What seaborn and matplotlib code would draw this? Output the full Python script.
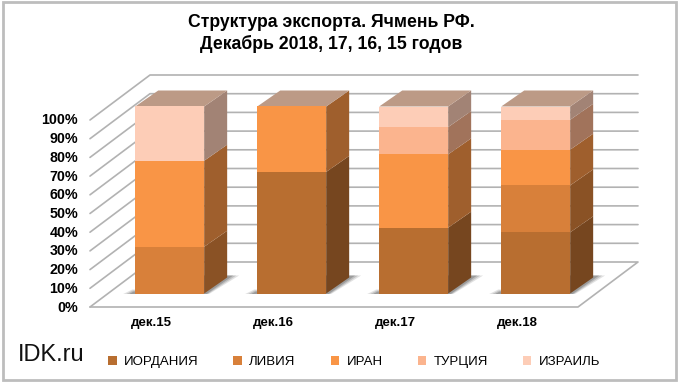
import matplotlib
matplotlib.use("Agg")
import matplotlib.pyplot as plt
import matplotlib.colors as mcolors
from matplotlib.patches import Rectangle
from matplotlib.transforms import Affine2D
import numpy as np
import seaborn as sns

months = ["дек.15", "дек.16", "дек.17", "дек.18"]
series_names = ["ИОРДАНИЯ", "ЛИВИЯ", "ИРАН", "ТУРЦИЯ", "ИЗРАИЛЬ"]
jordan = [0, 65, 35.2, 32.7]
libya = [25, 0, 0, 25.1]
iran = [46, 35, 39.2, 19.1]
turkey = [0, 0, 14.6, 16]
israel = [29, 0, 11, 7.1]
series_values = [jordan, libya, iran, turkey, israel]
series_colors = ["#B86E30", "#D8803A", "#F99546", "#FBB48E", "#FDCDB7"]
y_ticks = list(range(0, 101, 10))

W, H = 680, 385
sns.set_theme(style="white")
plt.rcParams["font.family"] = ["Liberation Sans", "DejaVu Sans"]

fig = plt.figure(figsize=(W / 100, H / 100), dpi=100)
# front plane of the fake 3D box, in pixels
ax = fig.add_axes([90 / W, (H - 307) / H, 488 / W, 187 / H])
ax.set_xlim(-0.5, 3.5)
ax.set_ylim(0, 100)

# pixel sizes to data units
PX_X = 4 / 488
PX_Y = 100 / 187
BOX_DX, BOX_DY = 60 * PX_X, 45 * PX_Y
BAR_DX, BAR_DY = 23 * PX_X, 16 * PX_Y
SHIFT_X, SHIFT_Y = 18.7 * PX_X, 13.5 * PX_Y

GRID = "#B2B2B2"

# walls and floor
x0, x1 = -0.5, 3.5
for v in y_ticks:
    ax.plot([x0, x0 + BOX_DX, x1 + BOX_DX if v > 0 else x0 + BOX_DX],
            [v, v + BOX_DY, v + BOX_DY], color=GRID, lw=1.2, clip_on=False, zorder=1)
ax.plot([x0 + BOX_DX, x1 + BOX_DX, x1, x0], [BOX_DY, BOX_DY, 0, 0],
        color=GRID, lw=1.2, clip_on=False, zorder=1)

bar_shift = Affine2D().translate(SHIFT_X, SHIFT_Y) + ax.transData

# stacked bars
bottoms = np.zeros(len(months))
for name, vals, col in zip(series_names, series_values, series_colors):
    sns.barplot(x=months, y=vals, bottom=bottoms, color=col, width=0.565, saturation=1,
                label=name, ax=ax, zorder=4, linewidth=0)
    bottoms = bottoms + np.array(vals)
ax.set_xlim(-0.5, 3.5)
ax.set_ylim(0, 100)
if ax.get_legend() is not None:
    ax.get_legend().remove()

handles = []
tops = {}
for cont, col in zip(ax.containers, series_colors):
    handles.append(cont)
    side = np.array(mcolors.to_rgb(col)) * 0.64
    for p in cont.patches:
        p.set_transform(bar_shift)
        p.set_clip_on(False)
        xr, yb, h = p.get_x() + p.get_width(), p.get_y(), p.get_height()
        if h > 0:
            ax.fill([xr, xr + BAR_DX, xr + BAR_DX, xr],
                    [yb, yb + BAR_DY, yb + h + BAR_DY, yb + h],
                    color=side, lw=0, transform=bar_shift, clip_on=False, zorder=3)
            tops[p.get_x()] = (p.get_width(), yb + h)

for xl, (w, yt) in tops.items():
    ax.fill([xl, xl + w, xl + w + BAR_DX, xl + BAR_DX],
            [yt, yt, yt + BAR_DY, yt + BAR_DY],
            color="#BC9A86", lw=0, transform=bar_shift, clip_on=False, zorder=3)
    # floor shadow, a few layers to soften it
    xr = xl + w
    for g, alpha in [(1.0, 0.16), (0.75, 0.22), (0.5, 0.3)]:
        ax.fill([xl - 12 * g * PX_X, xr + 5 * g * PX_X, xr + BAR_DX + 12 * g * PX_X,
                 xl + BAR_DX, xl, xl - 3 * g * PX_X],
                [-0.5 * PX_Y, -0.5 * PX_Y, BAR_DY + 2 * PX_Y, BAR_DY + 2 * PX_Y,
                 4 * g * PX_Y, 4 * g * PX_Y],
                color="#4A4A4A", alpha=alpha, lw=0, transform=bar_shift, clip_on=False, zorder=2)

for s in ax.spines.values():
    s.set_visible(False)
ax.patch.set_alpha(0)
ax.set_yticks(y_ticks)
ax.set_yticklabels([f"{v}%" for v in y_ticks], fontsize=10.3, fontweight="bold", color="black")
ax.tick_params(axis="y", length=0, pad=8.5)
ax.tick_params(axis="x", length=0, pad=7)
ax.set_xticks(range(len(months)))
ax.set_xticklabels(months, fontsize=9.5, fontweight="bold", color="black")
ax.set_xlabel("")
for t in ax.get_yticklabels():
    t.set_transform(t.get_transform() + Affine2D().translate(0, 1))

fig.text(331 / W, 1 - 33.5 / H, "Структура экспорта. Ячмень РФ.\nДекабрь 2018, 17, 16, 15 годов",
         ha="center", va="center", fontsize=12.7, fontweight="bold", linespacing=1.3, color="black")
fig.text(18 / W, 1 - 355 / H, "IDK.ru", ha="left", va="center", fontsize=17, color="#111111")

fig.legend(handles, series_names, loc="center left", bbox_to_anchor=(108 / W, 1 - 362 / H),
           ncol=5, frameon=False, fontsize=9.5, handlelength=0.65, handleheight=0.65,
           handletextpad=0.55, columnspacing=2.65, borderpad=0, borderaxespad=0,
           labelcolor="black")

fig.add_artist(Rectangle((3 / W, 1 - 380 / H), 673 / W, 378 / H, transform=fig.transFigure,
                         fill=False, edgecolor="#BDBDBD", lw=2))

fig.savefig("out.png", dpi=100)
